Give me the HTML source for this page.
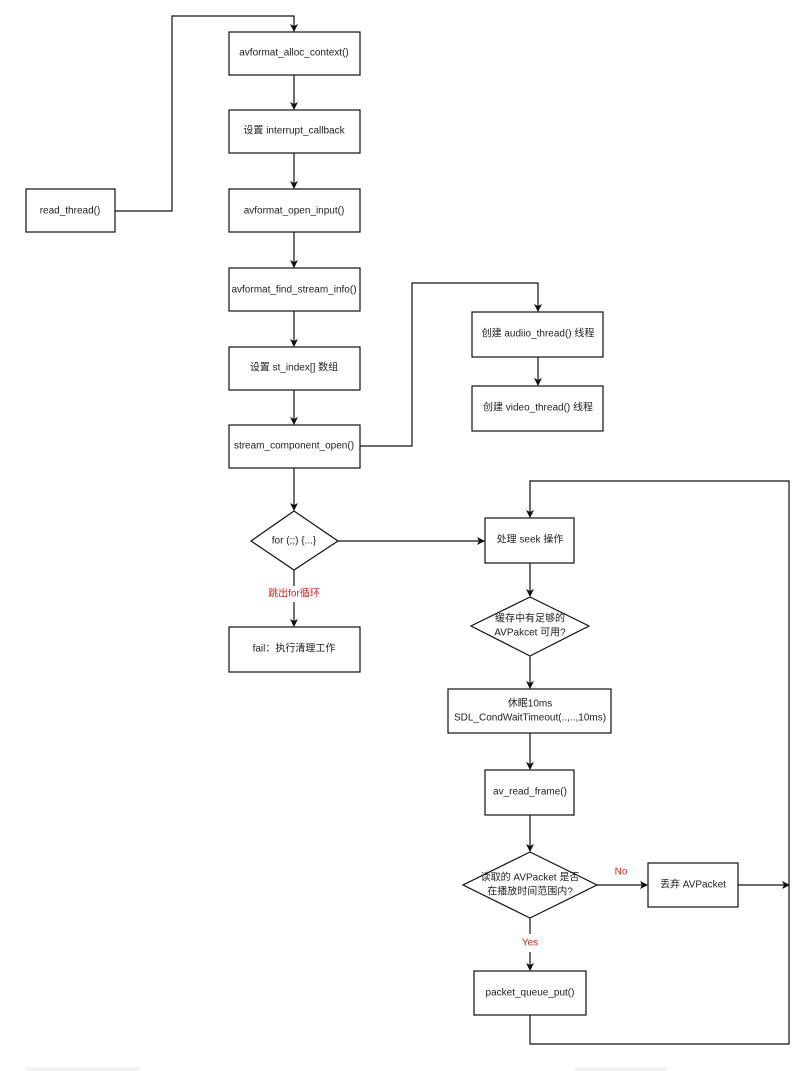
<!DOCTYPE html>
<html><head><meta charset="utf-8"><style>
html,body{margin:0;padding:0;background:#fff;}
svg{display:block;}
text{font-family:"Liberation Sans","Noto Sans CJK SC",sans-serif;font-size:10px;fill:#222;text-anchor:middle;dominant-baseline:central;}
.r{fill:#e02020;}
</style></head><body>
<svg width="798" height="1071" viewBox="0 0 798 1071" xmlns="http://www.w3.org/2000/svg">
<defs><marker id="a" markerWidth="8" markerHeight="8" refX="7" refY="4" orient="auto" markerUnits="userSpaceOnUse"><path d="M0,0 L8,4 L0,8 L2,4 Z" fill="#111"/></marker></defs>
<g fill="#fff" stroke="#111" stroke-width="1.2">
<rect x="229" y="32" width="131" height="43"/>
<rect x="229" y="110" width="131" height="43"/>
<rect x="229" y="189" width="131" height="43"/>
<rect x="26" y="189" width="89" height="43"/>
<rect x="229" y="268" width="131" height="43"/>
<rect x="229" y="347" width="131" height="43"/>
<rect x="229" y="425" width="131" height="43"/>
<rect x="472" y="312" width="131" height="45"/>
<rect x="472" y="386" width="131" height="45"/>
<polygon points="294,511 338,541 294,570 251,541"/>
<rect x="229" y="627" width="131" height="45"/>
<rect x="485" y="518" width="89" height="45"/>
<polygon points="530,597 589,626 530,656 471,626"/>
<rect x="448" y="689" width="163" height="44"/>
<rect x="485" y="770" width="89" height="45"/>
<polygon points="530,852 597,885 530,918 463,885"/>
<rect x="648" y="863" width="90" height="44"/>
<rect x="474" y="971" width="112" height="44"/>
</g>
<g fill="none" stroke="#111" stroke-width="1.2">
<path d="M115,211 H172 V16 H294 V31" marker-end="url(#a)"/>
<path d="M294,75 V109" marker-end="url(#a)"/>
<path d="M294,153 V188" marker-end="url(#a)"/>
<path d="M294,232 V267" marker-end="url(#a)"/>
<path d="M294,311 V346" marker-end="url(#a)"/>
<path d="M294,390 V424" marker-end="url(#a)"/>
<path d="M294,468 V510" marker-end="url(#a)"/>
<path d="M360,446 H412 V283 H538 V311" marker-end="url(#a)"/>
<path d="M538,357 V385" marker-end="url(#a)"/>
<path d="M338,541 H484" marker-end="url(#a)"/>
<path d="M294,570 V586"/>
<path d="M294,602 V626" marker-end="url(#a)"/>
<path d="M530,563 V596" marker-end="url(#a)"/>
<path d="M530,656 V688" marker-end="url(#a)"/>
<path d="M530,733 V769" marker-end="url(#a)"/>
<path d="M530,815 V851" marker-end="url(#a)"/>
<path d="M597,885 H647" marker-end="url(#a)"/>
<path d="M738,885 H789" marker-end="url(#a)"/>
<path d="M530,918 V934"/>
<path d="M530,952 V970" marker-end="url(#a)"/>
<path d="M530,1015 V1044 H789 V481 H530 V517" marker-end="url(#a)"/>
</g>
<text x="294" y="53">avformat_alloc_context()</text>
<text x="294" y="131">设置 interrupt_callback</text>
<text x="294" y="211">avformat_open_input()</text>
<text x="70" y="211">read_thread()</text>
<text x="294" y="290">avformat_find_stream_info()</text>
<text x="294" y="368">设置 st_index[] 数组</text>
<text x="294" y="446">stream_component_open()</text>
<text x="538" y="334">创建 audiio_thread() 线程</text>
<text x="538" y="408">创建 video_thread() 线程</text>
<text x="294" y="541">for (;;) {...}</text>
<text x="294" y="594" class="r">跳出for循环</text>
<text x="294" y="649">fail：执行清理工作</text>
<text x="530" y="540">处理 seek 操作</text>
<text x="530" y="619">缓存中有足够的</text>
<text x="530" y="633">AVPakcet 可用?</text>
<text x="530" y="704">休眠10ms</text>
<text x="530" y="718">SDL_CondWaitTimeout(..,..,10ms)</text>
<text x="530" y="792">av_read_frame()</text>
<text x="530" y="878">读取的 AVPacket 是否</text>
<text x="530" y="892">在播放时间范围内?</text>
<text x="621" y="872" class="r">No</text>
<text x="693" y="885">丢弃 AVPacket</text>
<text x="530" y="943" class="r">Yes</text>
<text x="530" y="993">packet_queue_put()</text>
<rect x="26" y="1067" width="114" height="4" fill="#f3f3f3"/>
<rect x="575" y="1067" width="92" height="4" fill="#f3f3f3"/>
</svg>
</body></html>
